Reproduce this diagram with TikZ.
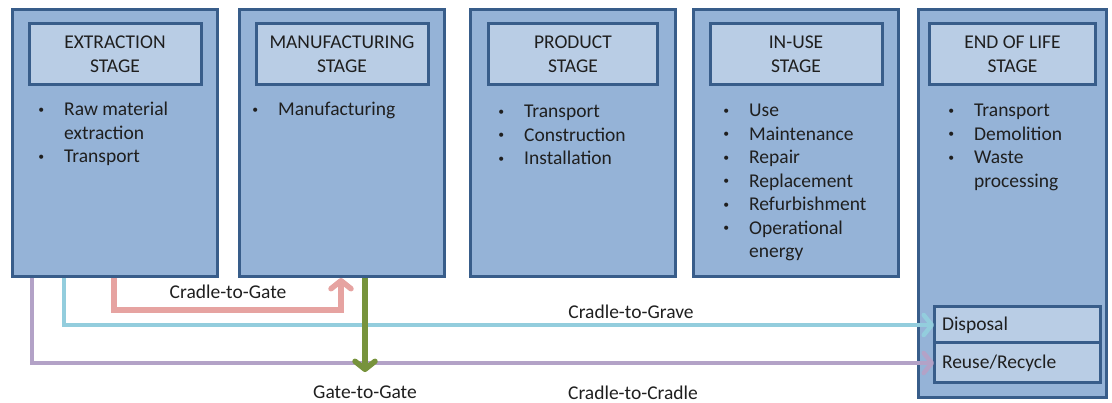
\documentclass[tikz,border=0pt]{standalone}
\usepackage{fontspec}
\usepackage{graphicx}
\setmainfont{Carlito}
\usetikzlibrary{arrows.meta,positioning,calc}

\definecolor{stagefill}{HTML}{95B3D7}
\definecolor{headfill}{HTML}{B9CDE5}
\definecolor{stageline}{HTML}{385D8A}
\definecolor{gatered}{HTML}{E6A3A1}
\definecolor{gravecyan}{HTML}{93CDDD}
\definecolor{cradlepurple}{HTML}{B3A2C7}
\definecolor{gategreen}{HTML}{77933C}
\definecolor{inktext}{HTML}{1F1F1F}

\newcommand{\bul}{\makebox[46pt][c]{\raisebox{2.6pt}{\scalebox{0.6}{•}}}}
\newcommand{\nobul}{\hspace*{46pt}}
\newcommand{\stageitems}[1]{\begin{tabular}[t]{@{}l@{}}#1\end{tabular}}

\begin{document}
\begin{tikzpicture}[x=1pt, y=-1pt,
    every node/.style={font=\fontsize{19.5}{23.5}\selectfont, text=inktext},
    stage/.style={draw=stageline, fill=stagefill, line width=3pt, inner sep=0pt,
        anchor=north west, minimum width=205pt, minimum height=267pt},
    stagehead/.style={draw=stageline, fill=headfill, line width=3pt, inner sep=0pt,
        minimum width=172pt, minimum height=61pt, align=center, below=14pt of #1.north},
    stagelist/.style={anchor=base west, inner sep=0pt},
    subbox/.style={draw=stageline, fill=headfill, line width=3pt, outer sep=0pt,
        text width=150pt, inner xsep=8pt, inner ysep=0pt, align=left, anchor=north west},
    flow/.style={line width=5.5pt, -{Straight Barb[round, length=8pt, width=20pt]}}]
    \useasboundingbox (0,0) rectangle (1112,403);

    % Life cycle stages
    \node[stage] (ext) at (11,8) {};
    \node[stage] (man) at (238,8) {};
    \node[stage] (prod) at (469,8) {};
    \node[stage] (use) at (692,8) {};
    \node[stage, minimum width=188pt, minimum height=388pt] (eol) at (917,8) {};

    \node[stagehead=ext] (exthead) {EXTRACTION\\STAGE};
    \node[stagehead=man] (manhead) {MANUFACTURING\\STAGE};
    \node[stagehead=prod, minimum width=169pt] (prodhead) {PRODUCT\\STAGE};
    \node[stagehead=use] (usehead) {IN-USE\\STAGE};
    \node[stagehead=eol, minimum width=166pt] (eolhead) {END OF LIFE\\STAGE};

    % Stage contents
    \node[stagelist] (extlist) at (18,116)
        {\stageitems{\bul Raw material\\ \nobul extraction\\ \bul Transport}};
    \node[stagelist] (manlist) at (232,116) {\stageitems{\bul Manufacturing}};
    \node[stagelist] (prodlist) at (478,118)
        {\stageitems{\bul Transport\\ \bul Construction\\ \bul Installation}};
    \node[stagelist] (uselist) at (703,117)
        {\stageitems{\bul Use\\ \bul Maintenance\\ \bul Repair\\ \bul Replacement\\
         \bul Refurbishment\\ \bul Operational\\ \nobul energy}};
    \node[stagelist] (eollist) at (928,117)
        {\stageitems{\bul Transport\\ \bul Demolition\\ \bul Waste\\ \nobul processing}};

    % End of life options
    \node[subbox, minimum height=36pt] (disp) at (934,307) {Disposal};
    \node[subbox, minimum height=40pt, below=0pt of disp] (reuse) {Reuse/Recycle};

    % System boundaries
    \node (c2gate) at (228,292) {Cradle-to-Gate};
    \node (c2grave) at (631,312) {Cradle-to-Grave};
    \node (c2cradle) at (633,393) {Cradle-to-Cradle};
    \node (g2g) at (365,392) {Gate-to-Gate};

    \draw[flow, gatered] ([xshift=103pt]ext.south west) -- ++(0,32) -| ([xshift=103pt]man.south west);
    \draw[flow, gravecyan, line width=4.5pt] ([xshift=53pt]ext.south west) |- (disp.west);
    \draw[flow, cradlepurple, line width=4.5pt] ([xshift=21pt]ext.south west) |- (reuse.west);
    \draw[flow, gategreen, shorten >=10pt] ([xshift=127pt]man.south west) -- (g2g.north);
\end{tikzpicture}
\end{document}
